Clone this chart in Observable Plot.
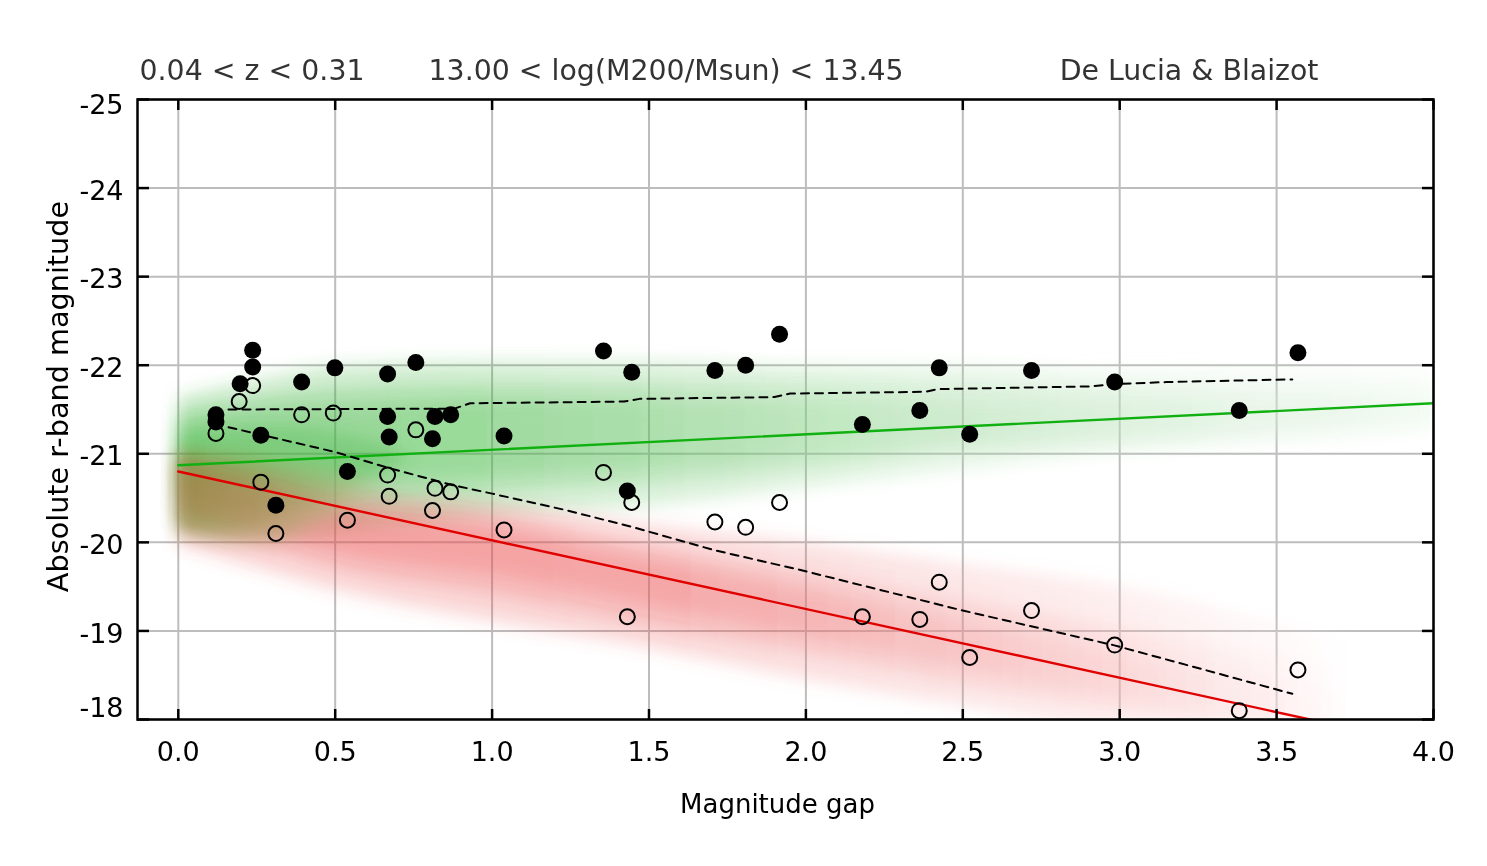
<!DOCTYPE html>
<html><head><meta charset="utf-8">
<script src="https://cdn.jsdelivr.net/npm/d3@7"></script>
<script src="https://cdn.jsdelivr.net/npm/@observablehq/plot@0.6"></script>
<style>
body{margin:0;background:#fff;}
#chart svg{display:block;}
</style></head><body><div id="chart"></div>
<script>
// ---- tick labels ----
const xTicks = [0, 0.5, 1.0, 1.5, 2.0, 2.5, 3.0, 3.5, 4.0];
const yTicks = [-25, -24, -23, -22, -21, -20, -19, -18];

// ---- titles / labels ----
const titleLeft = "0.04 < z < 0.31";
const titleMid = "13.00 < log(M200/Msun) < 13.45";
const titleRight = "De Lucia & Blaizot";
const xLabel = "Magnitude gap";
const yLabel = "Absolute r-band magnitude";

// ---- observed groups: brightest galaxy (filled) ----
const filledGap = [0.12, 0.12, 0.197, 0.237, 0.237, 0.263, 0.311, 0.393, 0.499, 0.539, 0.667, 0.667, 0.672, 0.757, 0.810, 0.818, 0.868, 1.038, 1.355, 1.431, 1.445, 1.710, 1.808, 1.916, 2.18, 2.363, 2.425, 2.522, 2.719, 2.984, 3.381, 3.568];
const filledMag = [-21.44, -21.36, -21.79, -22.17, -21.98, -21.21, -20.42, -21.81, -21.97, -20.80, -21.90, -21.42, -21.19, -22.03, -21.17, -21.42, -21.44, -21.20, -22.16, -20.58, -21.92, -21.94, -22.00, -22.35, -21.33, -21.49, -21.97, -21.22, -21.94, -21.81, -21.49, -22.14];

// ---- observed groups: second brightest (open) ----
const openGap = [0.12, 0.194, 0.237, 0.263, 0.311, 0.393, 0.494, 0.539, 0.667, 0.672, 0.757, 0.810, 0.818, 0.868, 1.038, 1.355, 1.431, 1.445, 1.710, 1.808, 1.916, 2.18, 2.363, 2.425, 2.522, 2.719, 2.984, 3.381, 3.568];
const openMag = [-21.23, -21.59, -21.77, -20.68, -20.10, -21.44, -21.46, -20.25, -20.76, -20.52, -21.27, -20.36, -20.61, -20.57, -20.14, -20.79, -19.16, -20.45, -20.23, -20.17, -20.45, -19.16, -19.13, -19.55, -18.70, -19.23, -18.84, -18.10, -18.56];

// ---- dashed running medians ----
const upperX = [0.16, 0.88, 0.93, 1.42, 1.47, 1.90, 1.95, 2.38, 2.42, 2.90, 3.0, 3.15, 3.55];
const upperY = [-21.50, -21.51, -21.57, -21.59, -21.62, -21.64, -21.68, -21.70, -21.73, -21.76, -21.79, -21.81, -21.84];
const lowerX = [0.16, 0.27, 0.50, 0.66, 0.87, 1.0, 1.24, 1.45, 1.71, 1.98, 2.24, 2.50, 2.77, 2.98, 3.24, 3.55];
const lowerY = [-21.30, -21.21, -21.02, -20.85, -20.65, -20.55, -20.36, -20.17, -19.91, -19.69, -19.46, -19.23, -19.01, -18.84, -18.59, -18.29];

// ---- model fits ----
const greenX = [0, 4.0];
const greenY = [-20.87, -21.57];
const redX = [0, 3.62];
const redY = [-20.80, -17.99];

// ---- model clouds (bands) ----
const greenCloudX = [0, 0.25, 0.5, 1.0, 1.5, 2.0, 2.5, 3.0, 3.5, 4.0];
const greenOuterTop = [-21.65, -21.85, -22.0, -22.05, -22.05, -22.0, -22.0, -21.95, -21.95, -21.95];
const greenOuterBot = [-20.1, -20.0, -20.1, -20.3, -20.4, -20.6, -20.8, -21.0, -21.1, -21.2];
const greenMidTop = [-21.5, -21.65, -21.75, -21.8, -21.8, -21.8, -21.8, -21.75, -21.75, -21.75];
const greenMidBot = [-20.4, -20.35, -20.4, -20.55, -20.65, -20.8, -21.0, -21.1, -21.2, -21.3];
const greenCoreTop = [-21.35, -21.5, -21.55, -21.6, -21.6, -21.6, -21.6, -21.6, -21.6, -21.6];
const greenCoreBot = [-20.6, -20.6, -20.65, -20.75, -20.85, -20.95, -21.1, -21.2, -21.3, -21.4];
// dense peak at small gaps
const greenPeakX = [0, 0.15, 0.35, 0.55, 0.75];
const greenPeakTop = [-21.25, -21.3, -21.3, -21.2, -21.0];
const greenPeakBot = [-20.2, -20.15, -20.3, -20.6, -21.0];

const redCloudX = [0, 0.25, 0.5, 1.0, 1.5, 2.0, 2.5, 3.0, 3.5, 3.75];
const redOuterTop = [-21.0, -20.85, -20.65, -20.45, -20.2, -20.0, -19.75, -19.5, -19.1, -18.9];
const redOuterBot = [-19.95, -19.7, -19.45, -19.1, -18.8, -18.45, -18.15, -17.9, -17.9, -17.9];
const redMidTop = [-20.95, -20.75, -20.5, -20.3, -19.95, -19.65, -19.35, -19.05, -18.7, -18.55];
const redMidBot = [-20.15, -19.95, -19.7, -19.4, -19.05, -18.75, -18.4, -18.1, -17.9, -17.9];
const redCoreTop = [-20.85, -20.65, -20.4, -20.15, -19.8, -19.45, -19.1, -18.75, -18.4, -18.25];
const redCoreBot = [-20.35, -20.15, -19.9, -19.65, -19.3, -18.95, -18.6, -18.25, -17.95, -17.9];

// olive region where both clouds overlap densely
const oliveX = [0, 0.15, 0.3, 0.45, 0.65];
const oliveTop = [-21.0, -21.0, -20.95, -20.85, -20.65];
const oliveBot = [-20.15, -20.05, -20.05, -20.25, -20.65];

// fade of cloud density along x
const greenFadeX = [0, 1.0, 1.5, 2.0, 2.5, 3.0, 3.5, 4.0];
const greenFadeOp = [1, 0.95, 0.8, 0.62, 0.45, 0.32, 0.2, 0.12];
const redFadeX = [0, 1.5, 2.0, 2.5, 3.0, 3.5, 3.75];
const redFadeOp = [1, 0.92, 0.78, 0.6, 0.4, 0.15, 0];

// ---- tables ----
const pts = (xs, ys) => xs.map((x, i) => ({x, y: ys[i]}));
const band = (xs, top, bot) => xs.map((x, i) => ({x, y1: top[i], y2: bot[i]}));

const W = 1487, H = 866;
const mL = 137, mR = 54, mT = 99, mB = 147;
const frameCx = (mL + (W - mR)) / 2, frameCy = (mT + (H - mB)) / 2;

const cloudMark = (data, fill, op) => Plot.areaY(data, {
  x: "x", y1: "y1", y2: "y2", fill, fillOpacity: op, clip: true, curve: "monotone-x"
});

const tickStyle = {stroke: "black", strokeWidth: 2.5, fill: "none", label: null};
const labelStyle = {tickSize: 0, fill: "black", fontSize: 27, label: null};

const svg = Plot.plot({
  width: W, height: H,
  marginLeft: mL, marginRight: mR, marginTop: mT, marginBottom: mB,
  style: {fontFamily: "DejaVu Sans", fontSize: "27px", background: "white", color: "black"},
  x: {domain: [-0.13, 4.0]},
  y: {domain: [-25, -18], reverse: true},
  marks: [
    Plot.gridX(xTicks, {stroke: "#bdbdbd", strokeOpacity: 1, strokeWidth: 2}),
    Plot.gridY(yTicks, {stroke: "#bdbdbd", strokeOpacity: 1, strokeWidth: 2}),
    cloudMark(band(greenCloudX, greenOuterTop, greenOuterBot), "url(#gfade)", 0.22),
    cloudMark(band(greenCloudX, greenMidTop, greenMidBot), "url(#gfade)", 0.22),
    cloudMark(band(greenCloudX, greenCoreTop, greenCoreBot), "url(#gfade)", 0.22),
    cloudMark(band(greenPeakX, greenPeakTop, greenPeakBot), "url(#gfade)", 0.3),
    cloudMark(band(redCloudX, redOuterTop, redOuterBot), "url(#rfade)", 0.21),
    cloudMark(band(redCloudX, redMidTop, redMidBot), "url(#rfade)", 0.21),
    cloudMark(band(redCloudX, redCoreTop, redCoreBot), "url(#rfade)", 0.21),
    cloudMark(band(oliveX, oliveTop, oliveBot), "url(#ofade)", 0.42),
    Plot.line(pts(greenX, greenY), {x: "x", y: "y", stroke: "#10b010", strokeWidth: 2.4, clip: true}),
    Plot.line(pts(redX, redY), {x: "x", y: "y", stroke: "#e00000", strokeWidth: 2.4, clip: true}),
    Plot.line(pts(upperX, upperY), {x: "x", y: "y", stroke: "black", strokeWidth: 2, strokeDasharray: "8,6"}),
    Plot.line(pts(lowerX, lowerY), {x: "x", y: "y", stroke: "black", strokeWidth: 2, strokeDasharray: "8,6"}),
    Plot.dot(pts(openGap, openMag), {x: "x", y: "y", r: 7.5, stroke: "black", strokeWidth: 2, fill: "none"}),
    Plot.dot(pts(filledGap, filledMag), {x: "x", y: "y", r: 8.5, fill: "black", stroke: "none"}),
    Plot.frame({stroke: "black", strokeWidth: 2.5}),
    // inward ticks on all sides
    Plot.axisX(xTicks, {anchor: "bottom", tickSize: 10, dy: -10, ...tickStyle}),
    Plot.axisX(xTicks, {anchor: "top", tickSize: 10, dy: 10, ...tickStyle}),
    Plot.axisY(yTicks, {anchor: "left", tickSize: 12, dx: 12, ...tickStyle}),
    Plot.axisY(yTicks, {anchor: "right", tickSize: 12, dx: -12, ...tickStyle}),
    // tick labels
    Plot.axisX(xTicks, {anchor: "bottom", tickPadding: 22, tickFormat: d => d.toFixed(1), ...labelStyle}),
    Plot.axisY(yTicks.filter(t => t !== -25 && t !== -18), {anchor: "left", tickPadding: 14, dy: 3, tickFormat: d => String(d), ...labelStyle}),
    Plot.axisY(yTicks.filter(t => t === -25), {anchor: "left", tickPadding: 14, dy: 6, tickFormat: d => String(d), ...labelStyle}),
    Plot.axisY(yTicks.filter(t => t === -18), {anchor: "left", tickPadding: 14, dy: -11, tickFormat: d => String(d), ...labelStyle}),
    // titles
    Plot.text([titleLeft], {text: d => d, frameAnchor: "top-left", textAnchor: "start", lineAnchor: "bottom", dx: 2, dy: -20, fill: "#333", fontSize: 28.4}),
    Plot.text([titleMid], {text: d => d, frameAnchor: "top-left", textAnchor: "start", lineAnchor: "bottom", dx: 291, dy: -20, fill: "#333", fontSize: 28.4}),
    Plot.text([titleRight], {text: d => d, frameAnchor: "top-right", textAnchor: "end", lineAnchor: "bottom", dx: -115, dy: -20, fill: "#333", fontSize: 28.4}),
    // axis labels
    Plot.text([xLabel], {text: d => d, frameAnchor: "bottom", textAnchor: "middle", lineAnchor: "bottom", dx: 777 - frameCx, dy: 93, fill: "black", fontSize: 26}),
    Plot.text([yLabel], {text: d => d, frameAnchor: "left", textAnchor: "middle", lineAnchor: "middle", rotate: -90, dx: 58 - mL, dy: 396 - frameCy, fill: "black", fontSize: 28.7})
  ]
});

// gradients (colour fading to white) & soft edge filter for the model clouds
const ns = "http://www.w3.org/2000/svg";
const xs = svg.scale("x");
const defs = document.createElementNS(ns, "defs");
function makeGrad(id, color, sx, so) {
  const g = document.createElementNS(ns, "linearGradient");
  g.setAttribute("id", id);
  g.setAttribute("gradientUnits", "userSpaceOnUse");
  const x1 = xs.apply(sx[0]), x2 = xs.apply(sx[sx.length - 1]);
  g.setAttribute("x1", x1); g.setAttribute("x2", x2);
  g.setAttribute("y1", 0); g.setAttribute("y2", 0);
  const mix = d3.interpolateRgb("white", color);
  sx.forEach((v, i) => {
    const s = document.createElementNS(ns, "stop");
    s.setAttribute("offset", (xs.apply(v) - x1) / (x2 - x1));
    s.setAttribute("stop-color", mix(so[i]));
    g.appendChild(s);
  });
  defs.appendChild(g);
}
makeGrad("gfade", "#3cb43c", greenFadeX, greenFadeOp);
makeGrad("rfade", "#eb4646", redFadeX, redFadeOp);
makeGrad("ofade", "#7a9030", [0, 0.65], [1, 0.5]);
const filt = document.createElementNS(ns, "filter");
filt.setAttribute("id", "soft");
filt.setAttribute("filterUnits", "userSpaceOnUse");
filt.setAttribute("x", 0); filt.setAttribute("y", 0);
filt.setAttribute("width", W); filt.setAttribute("height", H);
const blur = document.createElementNS(ns, "feGaussianBlur");
blur.setAttribute("stdDeviation", "8");
filt.appendChild(blur);
defs.appendChild(filt);
svg.insertBefore(defs, svg.firstChild);
svg.querySelectorAll('g[fill^="url("]').forEach(g => {
  g.style.mixBlendMode = "multiply";
  g.querySelectorAll("path").forEach(p => p.setAttribute("filter", "url(#soft)"));
});

document.getElementById("chart").appendChild(svg);
</script>
</body></html>
